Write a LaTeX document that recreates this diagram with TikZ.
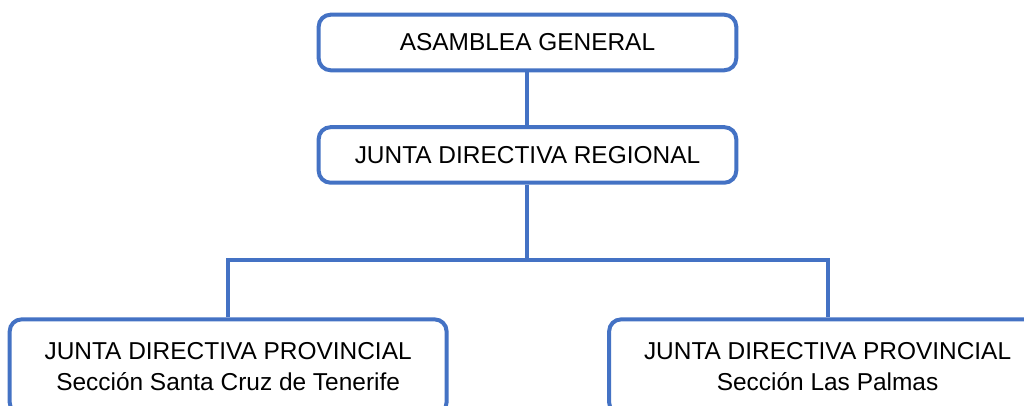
\documentclass[tikz,border=0pt]{standalone}
\usepackage{fontspec}
\setmainfont{Liberation Sans}
\usetikzlibrary{positioning}
\definecolor{orgblue}{HTML}{4472C4}

\begin{document}
\begin{tikzpicture}
  [
    font=\fontsize{18.4}{23.25}\selectfont,
    node distance=1.40cm,
    organ/.style={
      rectangle,
      draw=orgblue,
      line width=3pt,
      rounded corners=9pt,
      fill=white,
      inner sep=0pt,
      minimum height=1.47cm,minimum width=11.05cm,
      align=center
    },
    section/.style={
      organ,
      minimum height=2.51cm,minimum width=11.56cm
    },
    link/.style={draw=orgblue,line width=3pt},
  ]
  \useasboundingbox (-13.956,1.124) rectangle (13.137,-9.592);

  \node[organ]                    (asamblea) {ASAMBLEA GENERAL};
  \node[organ,below=of asamblea]  (regional) {JUNTA DIRECTIVA REGIONAL};
  \node[section,below=3.51cm of regional,xshift=-7.92cm] (prov-sc)
      {JUNTA DIRECTIVA PROVINCIAL\\Sección Santa Cruz de Tenerife};
  \node[section,below=3.51cm of regional,xshift=7.94cm]  (prov-lp)
      {JUNTA DIRECTIVA PROVINCIAL\\Sección Las Palmas};
  \coordinate[below=1.99cm of regional] (fork);

  \draw[link] (asamblea) -- (regional);
  \draw[link] (regional) -- (fork);
  \draw[link] (prov-sc.north) |- (fork) -| (prov-lp.north);
\end{tikzpicture}
\end{document}
